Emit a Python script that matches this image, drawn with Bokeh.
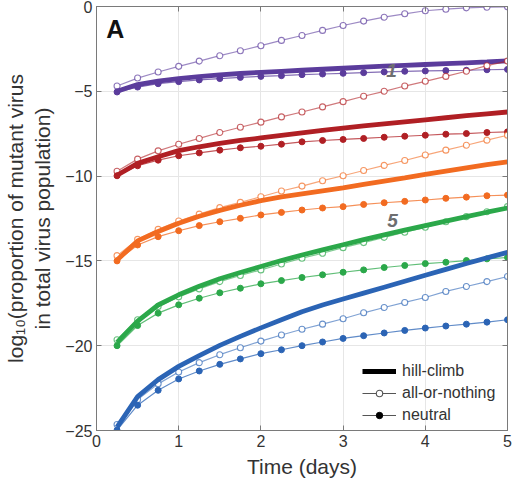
from bokeh.plotting import figure
from bokeh.models import LinearAxis, Label, Legend, LegendItem, FixedTicker, Range1d
from bokeh.embed import file_html
from bokeh.resources import INLINE

# ---- data -------------------------------------------------------------
t = [0.25, 0.5, 0.75, 1.0, 1.25, 1.5, 1.75, 2.0, 2.25, 2.5,
     2.75, 3.0, 3.25, 3.5, 3.75, 4.0, 4.25, 4.5, 4.75, 5.0]

# purple (1)
hill_p = [-5.00, -4.60, -4.40, -4.25, -4.13, -4.03, -3.95, -3.88, -3.82, -3.76,
          -3.70, -3.64, -3.58, -3.52, -3.47, -3.42, -3.37, -3.32, -3.27, -3.20]
aon_p = [-4.69, -4.22, -3.86, -3.53, -3.22, -2.90, -2.61, -2.31, -2.00, -1.71,
         -1.41, -1.12, -0.86, -0.63, -0.43, -0.25, -0.16, -0.08, -0.04, -0.02]
neu_p = [-5.04, -4.75, -4.55, -4.43, -4.33, -4.25, -4.18, -4.12, -4.08, -4.02,
         -3.98, -3.94, -3.90, -3.86, -3.82, -3.80, -3.78, -3.76, -3.73, -3.71]

# red
hill_r = [-9.95, -9.25, -8.86, -8.50, -8.27, -8.07, -7.90, -7.75, -7.60, -7.45,
          -7.31, -7.17, -7.04, -6.92, -6.80, -6.68, -6.56, -6.44, -6.33, -6.22]
aon_r = [-9.71, -9.00, -8.51, -8.12, -7.78, -7.43, -7.12, -6.82, -6.51, -6.22,
         -5.92, -5.61, -5.29, -5.00, -4.69, -4.41, -4.12, -3.82, -3.49, -3.22]
neu_r = [-9.98, -9.39, -9.06, -8.80, -8.63, -8.47, -8.33, -8.24, -8.12, -7.98,
         -7.90, -7.84, -7.78, -7.71, -7.65, -7.59, -7.53, -7.49, -7.43, -7.39]

# orange
hill_o = [-14.95, -13.82, -13.27, -12.78, -12.37, -12.02, -11.72, -11.45, -11.23, -11.05,
          -10.87, -10.69, -10.49, -10.29, -10.10, -9.90, -9.70, -9.51, -9.33, -9.16]
aon_o = [-14.69, -13.73, -13.14, -12.65, -12.24, -11.86, -11.55, -11.22, -10.88, -10.59,
         -10.27, -9.98, -9.67, -9.37, -9.08, -8.76, -8.47, -8.18, -7.88, -7.59]
neu_o = [-15.00, -14.06, -13.57, -13.22, -12.92, -12.69, -12.49, -12.29, -12.14, -12.00,
         -11.88, -11.80, -11.67, -11.57, -11.49, -11.41, -11.31, -11.24, -11.16, -11.12]

# green (5)
hill_g = [-19.80, -18.55, -17.60, -17.00, -16.50, -16.05, -15.68, -15.33, -14.98, -14.65,
          -14.35, -14.05, -13.75, -13.47, -13.19, -12.92, -12.65, -12.39, -12.13, -11.88]
aon_g = [-19.65, -18.47, -17.69, -17.12, -16.65, -16.22, -15.86, -15.53, -15.18, -14.84,
         -14.55, -14.22, -13.92, -13.61, -13.31, -13.02, -12.69, -12.39, -12.10, -11.80]
neu_g = [-20.00, -18.81, -18.08, -17.59, -17.20, -16.88, -16.61, -16.35, -16.16, -15.98,
         -15.82, -15.67, -15.53, -15.39, -15.27, -15.16, -15.08, -14.98, -14.88, -14.80]

# blue
hill_b = [-24.80, -23.00, -22.00, -21.22, -20.58, -19.98, -19.45, -18.95, -18.47, -18.00,
          -17.60, -17.25, -16.90, -16.55, -16.20, -15.85, -15.50, -15.15, -14.82, -14.50]
aon_b = [-24.65, -23.18, -22.25, -21.55, -21.00, -20.53, -20.12, -19.73, -19.37, -19.03,
         -18.73, -18.41, -18.06, -17.75, -17.45, -17.16, -16.80, -16.51, -16.22, -15.92]
neu_b = [-24.98, -23.51, -22.63, -21.96, -21.49, -21.10, -20.78, -20.47, -20.24, -20.00,
         -19.78, -19.57, -19.41, -19.25, -19.10, -18.96, -18.84, -18.73, -18.61, -18.47]

colors = ["#5b3c9c", "#b01f24", "#f26b21", "#2ba84a", "#2b64b5"]

x_ticks = [0, 1, 2, 3, 4, 5]
y_ticks = [0, -5, -10, -15, -20, -25]
y_tick_labels = ["0", "\u22125", "\u221210", "\u221215", "\u221220", "\u221225"]

legend_labels = ["hill-climb", "all-or-nothing", "neutral"]
x_label = "Time (days)"
y_label = "log\u2081\u2080(proportion of mutant virus\nin total virus population)"

NAN = float("nan")

# ---- figure -----------------------------------------------------------
FONT = "Liberation Sans"
TXT = "#333333"
FRAME = "#7a7a7a"

p = figure(width=513, height=480, x_range=Range1d(0, 5), y_range=Range1d(-25, 0),
           output_backend="svg", toolbar_location=None,
           min_border_left=88, min_border_right=6, min_border_top=6,
           min_border_bottom=50)
p.outline_line_color = FRAME
p.background_fill_color = "white"
p.xgrid.grid_line_color = "#e6e6e6"
p.ygrid.grid_line_color = "#e6e6e6"
p.xgrid.ticker = FixedTicker(ticks=x_ticks)
p.ygrid.ticker = FixedTicker(ticks=y_ticks)

series = [(colors[0], hill_p, aon_p, neu_p),
          (colors[1], hill_r, aon_r, neu_r),
          (colors[2], hill_o, aon_o, neu_o),
          (colors[3], hill_g, aon_g, neu_g),
          (colors[4], hill_b, aon_b, neu_b)]

for c, hill, aon, neu in series:
    p.line(t, aon, line_color=c, line_width=1.2, line_alpha=0.6)
    p.scatter(t, aon, marker="circle", size=6, fill_color="white",
              line_color=c, line_alpha=0.7, line_width=1.1)
    p.line(t, neu, line_color=c, line_width=1.2, line_alpha=0.75)
    p.scatter(t, neu, marker="circle", size=6, fill_color=c, line_color=c)
    p.line(t, hill, line_color=c, line_width=4.8)

# axes
p.xaxis.ticker = FixedTicker(ticks=x_ticks)
p.yaxis.ticker = FixedTicker(ticks=y_ticks)
p.yaxis.major_label_overrides = {v: s for v, s in zip(y_ticks, y_tick_labels)}
p.xaxis.axis_label = x_label
p.yaxis.axis_label = y_label

for ax in [p.xaxis[0], p.yaxis[0]]:
    ax.major_tick_in = 5
    ax.major_tick_out = 0
    ax.minor_tick_line_color = None
    ax.axis_line_color = FRAME
    ax.major_tick_line_color = FRAME
    ax.major_label_text_font = FONT
    ax.major_label_text_font_size = "16px"
    ax.major_label_text_color = TXT
    ax.major_label_standoff = 4
    ax.axis_label_text_font = FONT
    ax.axis_label_text_font_size = "21px"
    ax.axis_label_text_font_style = "normal"
    ax.axis_label_text_color = TXT
p.yaxis.axis_label_standoff = 8
p.xaxis.axis_label_standoff = 5

top = LinearAxis(ticker=FixedTicker(ticks=x_ticks), major_tick_in=5, major_tick_out=0,
                 minor_tick_line_color=None, axis_line_color=FRAME,
                 major_tick_line_color=FRAME, major_label_standoff=0,
                 major_label_overrides={v: "" for v in x_ticks})
right = LinearAxis(ticker=FixedTicker(ticks=y_ticks), major_tick_in=5, major_tick_out=0,
                   minor_tick_line_color=None, axis_line_color=FRAME,
                   major_tick_line_color=FRAME, major_label_standoff=0,
                   major_label_overrides={v: "" for v in y_ticks})
p.add_layout(top, "above")
p.add_layout(right, "right")

# legend (swatches only; their NaN data is never drawn in the plot)
r_h = p.line([NAN], [NAN], line_color="black", line_width=4.8)
r_al = p.line([NAN], [NAN], line_color="#555555", line_width=1.2)
r_as = p.scatter([NAN], [NAN], marker="circle", size=6, fill_color="white",
                 line_color="#555555", line_width=1.1)
r_nl = p.line([NAN], [NAN], line_color="#555555", line_width=1.2)
r_ns = p.scatter([NAN], [NAN], marker="circle", size=6, fill_color="black",
                 line_color="black")
legend = Legend(items=[LegendItem(label=legend_labels[0], renderers=[r_h]),
                       LegendItem(label=legend_labels[1], renderers=[r_al, r_as]),
                       LegendItem(label=legend_labels[2], renderers=[r_nl, r_ns])],
                location=(262, 2))
legend.label_text_font = FONT
legend.label_text_font_size = "16px"
legend.label_text_color = TXT
legend.glyph_width = 34
legend.glyph_height = 16
legend.spacing = 4
legend.padding = 4
legend.margin = 0
legend.label_standoff = 6
legend.background_fill_alpha = 0
legend.border_line_alpha = 0
p.add_layout(legend)

# annotations
p.add_layout(Label(x=0.12, y=-0.5, text="A", text_font=FONT, text_font_size="25px",
                   text_font_style="bold", text_color="#111111", text_baseline="top",
                   text_align="left"))
p.add_layout(Label(x=3.59, y=-3.76, text="1", text_font=FONT, text_font_size="19px",
                   text_font_style="bold italic", text_color="#6d6e70",
                   text_baseline="middle", text_align="center"))
p.add_layout(Label(x=3.6, y=-12.6, text="5", text_font=FONT, text_font_size="19px",
                   text_font_style="bold italic", text_color="#6d6e70",
                   text_baseline="middle", text_align="center"))

open("out.html", "w").write(file_html(p, INLINE))
